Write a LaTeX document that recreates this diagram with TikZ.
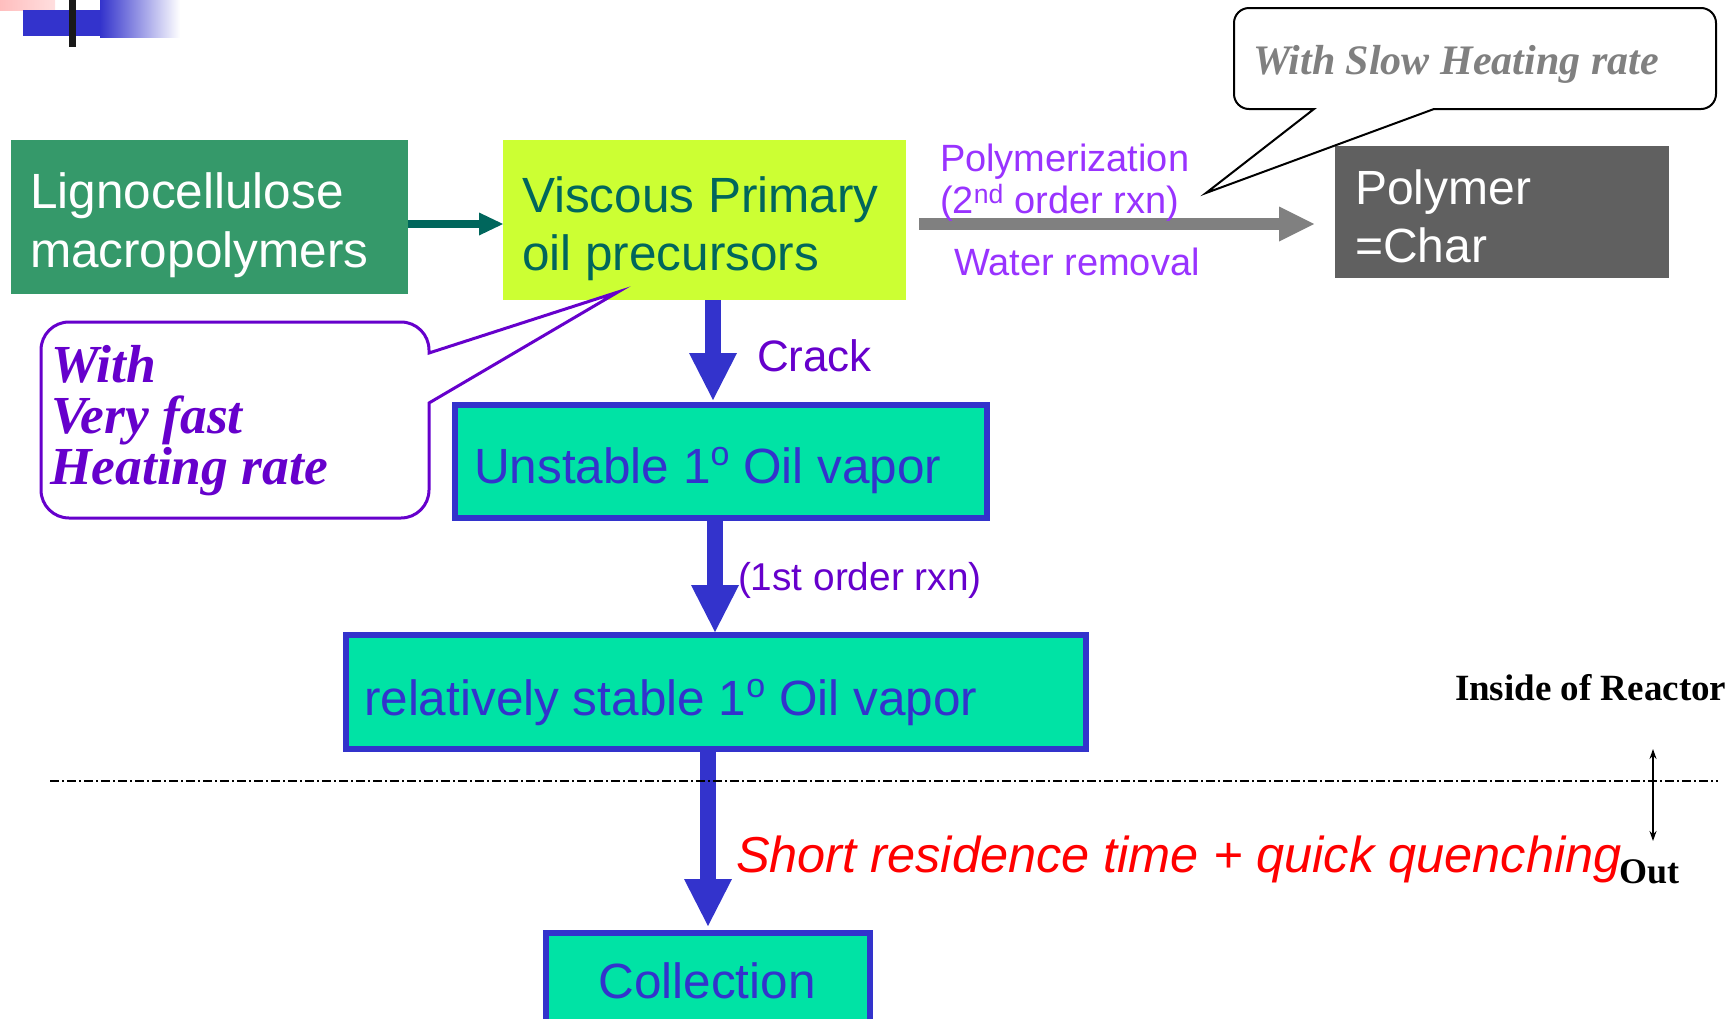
\documentclass[tikz,border=0pt]{standalone}
\usepackage{fontspec}
\setmainfont{Liberation Serif}
\newfontfamily\arial{Liberation Sans}
\usetikzlibrary{arrows.meta}
\definecolor{gboxc}{RGB}{53,153,106}
\definecolor{limec}{RGB}{204,255,51}
\definecolor{tealc}{RGB}{0,102,92}
\definecolor{charc}{RGB}{96,96,96}
\definecolor{grayarc}{RGB}{128,128,128}
\definecolor{plight}{RGB}{153,51,255}
\definecolor{pdark}{RGB}{102,0,204}
\definecolor{bblue}{RGB}{51,51,204}
\definecolor{aquac}{RGB}{0,227,165}
\definecolor{pinkc}{RGB}{255,190,190}
\newcommand{\ordo}{\raisebox{18pt}{\fontsize{34}{34}\selectfont o}}
\begin{document}
\begin{tikzpicture}[x=1pt,y=-1pt,
  lbl/.style={inner sep=0pt, outer sep=0pt, anchor=base west},
  flatbox/.style={inner sep=0pt, outer sep=0pt, draw=none},
  aquabox/.style={fill=aquac, draw=bblue, line width=6pt, inner sep=0pt},
  big/.style={font=\arial\fontsize{49.5}{58}\selectfont},
  aquatxt/.style={font=\arial\fontsize{49.5}{58}\selectfont, text=bblue},
  mid/.style={font=\arial\fontsize{38}{46}\selectfont},
  bluearrow/.style={draw=bblue, line width=16pt, -{Triangle[length=47pt 0,width=48pt 0,line width=0pt 0]}},
  tealarrow/.style={draw=tealc, line width=8pt, -{Triangle[length=24pt 0,width=23pt 0,line width=0pt 0]}},
  grayarrow/.style={draw=grayarc, line width=12pt, -{Triangle[length=35pt 0,width=35pt 0,line width=0pt 0]}}
]
\useasboundingbox (0,0) rectangle (1733,1018);
\clip (0,0) rectangle (1733,1018);

% top-left decoration
\shade[left color=pinkc, right color=pinkc!50] (0,0) rectangle (55,10);
\fill[bblue] (23,10) rectangle (100,36);
\shade[left color=bblue, right color=white] (100,0) rectangle (180,37);
\fill[black!90] (69,0) rectangle (76,47);

% boxes
\node[flatbox, fill=gboxc, minimum width=397pt, minimum height=154pt] (ligno) at (209.5,217) {};
\node[flatbox, fill=limec, minimum width=403pt, minimum height=160pt] (visc) at (704.5,220) {};
\node[flatbox, fill=charc, minimum width=334pt, minimum height=132pt] (char) at (1502,212) {};
\node[aquabox, minimum width=532pt, minimum height=113pt] (unst) at (721,461.5) {};
\node[aquabox, minimum width=740pt, minimum height=114pt] (stab) at (716,692) {};
\node[aquabox, minimum width=324pt, minimum height=107pt] (coll) at (708,986.5) {};

% box texts
\node[lbl, big, text=white] (tlig1) at (30,208) {Lignocellulose};
\node[lbl, big, text=white] (tlig2) at (30,267) {macropolymers};
\node[lbl, big, text=tealc] (tvis1) at (522,212) {Viscous Primary};
\node[lbl, big, text=tealc] (tvis2) at (522,270) {oil precursors};
\node[lbl, font=\arial\fontsize{48}{58}\selectfont, text=white] (tch1) at (1355,204) {Polymer};
\node[lbl, font=\arial\fontsize{48}{58}\selectfont, text=white] (tch2) at (1355,262) {=Char};
\node[lbl, aquatxt] (tun) at (474,483) {Unstable 1\ordo\ Oil vapor};
\node[lbl, aquatxt] (tst) at (364,715) {relatively stable 1\ordo\ Oil vapor};
\node[inner sep=0pt, anchor=base, aquatxt] (tco) at (707,998) {Collection};

% connectors
\coordinate (ya) at (0,224);
\coordinate (xa) at (713,0);
\coordinate (xb) at (715,0);
\coordinate (xc) at (708,0);
\draw[tealarrow] (ligno.east |- ya) -- (visc.west |- ya);
\draw[grayarrow, shorten <=13pt, shorten >=21pt] (visc.east |- ya) -- (char.west |- ya);
\draw[bluearrow, shorten >=2pt] (visc.south -| xa) -- (unst.north -| xa);
\draw[bluearrow] (unst.south -| xb) -- (stab.north -| xb);
\draw[bluearrow, shorten >=4pt] (stab.south -| xc) -- (coll.north -| xc);

% connector labels
\node[lbl, mid, text=plight] (lpoly) at (940,171) {Polymerization};
\node[lbl, mid, text=plight] (lorder2) at (940,213) {(2\textsuperscript{nd} order rxn)};
\node[lbl, mid, text=plight] (lwater) at (954,275) {Water removal};
\node[lbl, font=\arial\fontsize{44}{52}\selectfont, text=pdark] (lcrack) at (757,371) {Crack};
\node[lbl, font=\arial\fontsize{38.8}{46}\selectfont, text=pdark] (lorder1) at (738,590) {(1st order rxn)};
\node[lbl, font=\arial\itshape\fontsize{50.5}{58}\selectfont, text=red] (lshort) at (736,872) {Short residence time + quick quenching};

% reactor boundary
\coordinate (dl1) at (50,781);
\coordinate (dl2) at (1718,781);
\draw[black, line width=2pt, dash pattern=on 9pt off 3pt on 2pt off 3pt] (dl1) -- (dl2);
\coordinate (rin) at (1653,749);
\coordinate (rout) at (1653,841);
\draw[black, line width=1.5pt, {Stealth[length=10pt 0,width=7pt 0]}-{Stealth[length=10pt 0,width=7pt 0]}] (rin) -- (rout);
\node[lbl, font=\bfseries\fontsize{37}{42}\selectfont] (lin) at (1455,700) {Inside of Reactor};
\node[lbl, font=\bfseries\fontsize{36}{42}\selectfont] (lout) at (1619,883) {Out};

% callout: very fast heating
\draw[pdark, line width=3pt, fill=white, line join=miter]
  (618,292) -- (429,353) [rounded corners=28pt] -- (429,322) -- (41,322) -- (41,518) -- (429,518)
  [sharp corners] -- (429,403) -- cycle;
\node[lbl, font=\bfseries\itshape\fontsize{53.5}{51}\selectfont, text=pdark] (cf1) at (51,382) {With};
\node[lbl, font=\bfseries\itshape\fontsize{53.5}{51}\selectfont, text=pdark] (cf2) at (51,433) {Very fast};
\node[lbl, font=\bfseries\itshape\fontsize{53.5}{51}\selectfont, text=pdark] (cf3) at (50,484) {Heating rate};

% callout: slow heating
\draw[black, line width=2pt, fill=white, line join=miter]
  (1206,193) -- (1314,109) [rounded corners=15pt] -- (1234,109) -- (1234,8) -- (1716,8) -- (1716,109)
  [sharp corners] -- (1434,109) -- cycle;
\node[lbl, font=\bfseries\itshape\fontsize{42}{48}\selectfont, text=grayarc] (cs) at (1253,74) {With Slow Heating rate};
\end{tikzpicture}
\end{document}
